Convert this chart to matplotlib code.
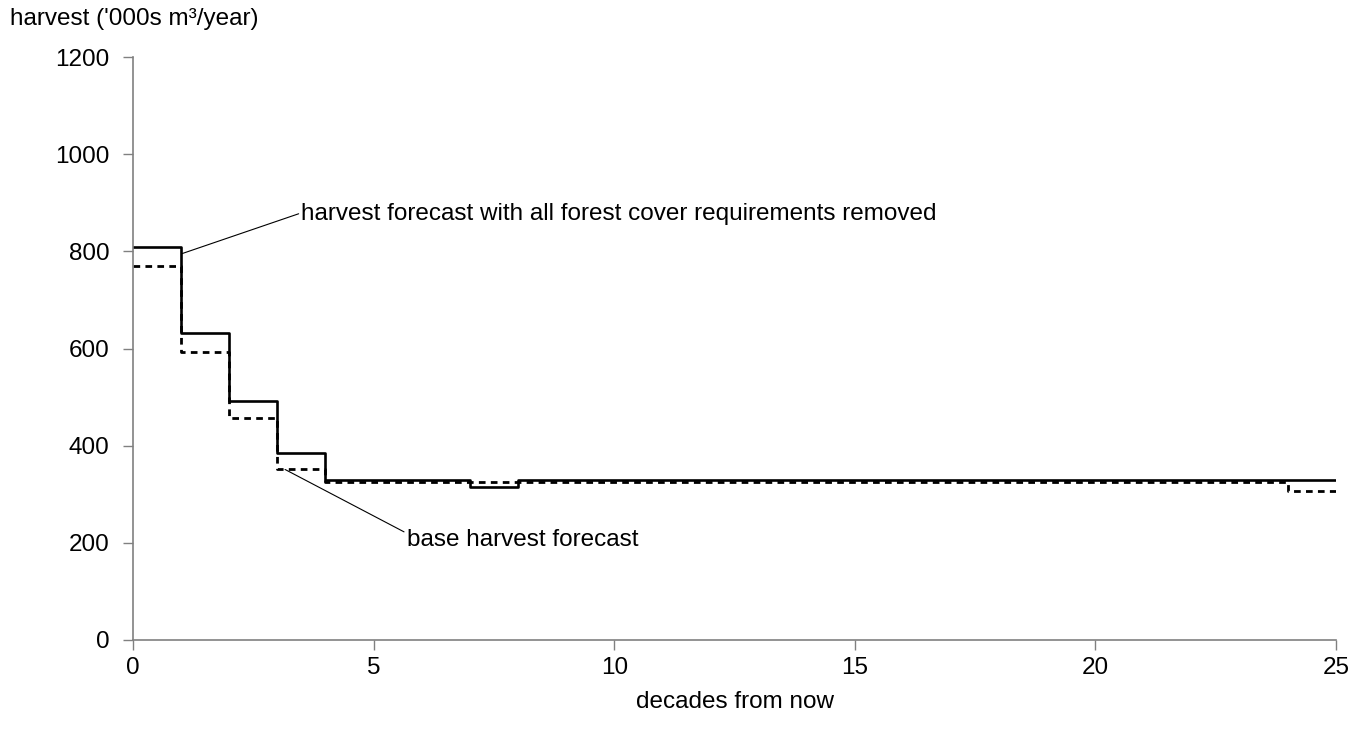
import matplotlib
matplotlib.use('Agg')
import matplotlib.pyplot as plt
import numpy as np

plt.rcParams['font.family'] = ['Liberation Sans', 'DejaVu Sans']

# decades 0..25 (step values hold for the decade that starts at x)
decades = np.arange(0, 26)
no_cover = [808, 631, 491, 384, 330, 330, 330, 315, 330, 330,
            330, 330, 330, 330, 330, 330, 330, 330, 330, 330,
            330, 330, 330, 330, 330, 330]
base = [770, 592, 457, 351, 325, 325, 325, 325, 325, 325,
        325, 325, 325, 325, 325, 325, 325, 325, 325, 325,
        325, 325, 325, 325, 307, 307]

y_ticks = [0, 200, 400, 600, 800, 1000, 1200]
x_ticks = [0, 5, 10, 15, 20, 25]

fs = 17.5

fig = plt.figure(figsize=(13.6, 7.31), dpi=100)
ax = fig.add_axes([133 / 1360, 91 / 731, 1203 / 1360, 583 / 731])

ax.plot(decades, base, drawstyle='steps-post', color='black', lw=2.0,
        linestyle=(0, (2.4, 1.9)))
ax.plot(decades, no_cover, drawstyle='steps-post', color='black', lw=1.9)

ax.set_xlim(0, 25)
ax.set_ylim(0, 1200)
ax.set_xticks(x_ticks)
ax.set_yticks(y_ticks)
ax.tick_params(axis='both', labelsize=fs, direction='out', color='#808080',
               length=7, width=1)
ax.tick_params(axis='y', pad=10)
ax.tick_params(axis='x', pad=5)

for s in ['top', 'right']:
    ax.spines[s].set_visible(False)
for s in ['left', 'bottom']:
    ax.spines[s].set_color('#808080')
    ax.spines[s].set_linewidth(1.2)

ax.set_xlabel('decades from now', fontsize=fs, labelpad=9)
fig.text(10 / 1360, 1 - 19 / 731, "harvest ('000s m³/year)", fontsize=fs,
         ha='left', va='center')

ax.annotate('harvest forecast with all forest cover requirements removed',
            xy=(1.01, 795), xytext=(3.5, 877), textcoords='data',
            fontsize=fs, ha='left', va='center',
            arrowprops=dict(arrowstyle='-', color='black', lw=0.8,
                            shrinkA=0, shrinkB=0, relpos=(0, 0.55)))
ax.annotate('base harvest forecast',
            xy=(3.16, 351), xytext=(5.69, 206), textcoords='data',
            fontsize=fs, ha='left', va='center',
            arrowprops=dict(arrowstyle='-', color='black', lw=0.8,
                            shrinkA=0, shrinkB=0, relpos=(0, 0.8)))

fig.savefig('out.png', dpi=100, facecolor='white')
